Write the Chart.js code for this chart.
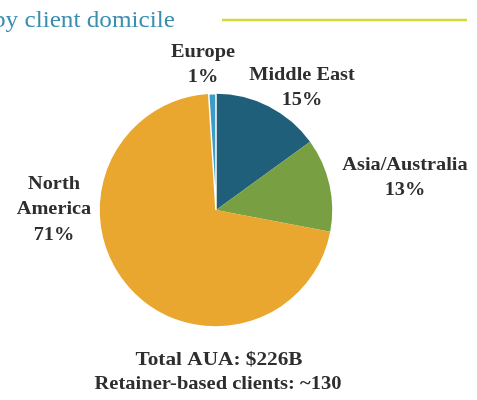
<!DOCTYPE html>
<html>
<head>
<meta charset="utf-8">
<script src="https://cdn.jsdelivr.net/npm/chart.js@4"></script>
<style>
  body { margin: 0; background: #fff; }
  #wrap { width: 477px; height: 400px; }
</style>
</head>
<body>
<div id="wrap"><canvas id="grafico"></canvas></div>
<script>
// dados do grafico
var regioes = ['Middle East', 'Asia/Australia', 'North America', 'Europe'];
var percentuais = [15, 13, 71, 1];
var cores = ['#1f5f7a', '#78a043', '#e9a72f', '#3d9bc9'];
var rotulos = [['Middle East', '15%'], ['Asia/Australia', '13%'], ['North', 'America', '71%'], ['Europe', '1%']];
var notas = ['Total AUA: $226B', 'Retainer-based clients: ~130'];

// posicoes dos rotulos (texto)
var posRotulos = [[302, 75], [405, 165], [54, 184], [203, 52]];

function textoLargo(c, t, x, y, esticar) {
  // texto um pouco esticado na horizontal
  c.save();
  c.translate(x, y);
  c.scale(esticar, 1);
  c.fillText(t, 0, 0);
  c.restore();
}

var textoPlugin = {
  id: 'textos',
  afterDraw: function(chart) {
    var c = chart.ctx;
    c.save();
    // titulo
    c.fillStyle = '#3a8fb0';
    c.font = '24px "Liberation Serif"';
    c.textAlign = 'left';
    c.textBaseline = 'alphabetic';
    textoLargo(c, 'by client domicile', -7, 27, 1.05);
    c.strokeStyle = '#d3d93a';
    c.lineWidth = 2.5;
    c.beginPath();
    c.moveTo(222, 20);
    c.lineTo(467, 20);
    c.stroke();

    // rotulos das fatias
    c.fillStyle = '#2e2e2e';
    c.font = 'bold 19px "Liberation Serif"';
    c.textAlign = 'center';
    c.textBaseline = 'middle';
    rotulos.forEach(function(linhas, i) {
      var p = posRotulos[i];
      linhas.forEach(function(t, j) {
        textoLargo(c, t, p[0], p[1] + j * 25.5, 1.07);
      });
    });

    // notas
    textoLargo(c, notas[0], 219, 360, 1.12);
    textoLargo(c, notas[1], 218, 384, 1.08);
    c.restore();
  }
};

var myChart = new Chart(document.getElementById('grafico'), {
  type: 'pie',
  data: {
    labels: regioes,
    datasets: [{
      data: percentuais,
      backgroundColor: cores,
      borderColor: '#ffffff',
      borderWidth: [0, 0, 0, 1.5]
    }]
  },
  options: {
    responsive: true,
    maintainAspectRatio: false,
    animation: false,
    layout: { padding: { left: 98, right: 143, top: 93, bottom: 73 } },
    plugins: {
      legend: { display: false },
      tooltip: { enabled: false }
    }
  },
  plugins: [textoPlugin]
});
</script>
</body>
</html>
